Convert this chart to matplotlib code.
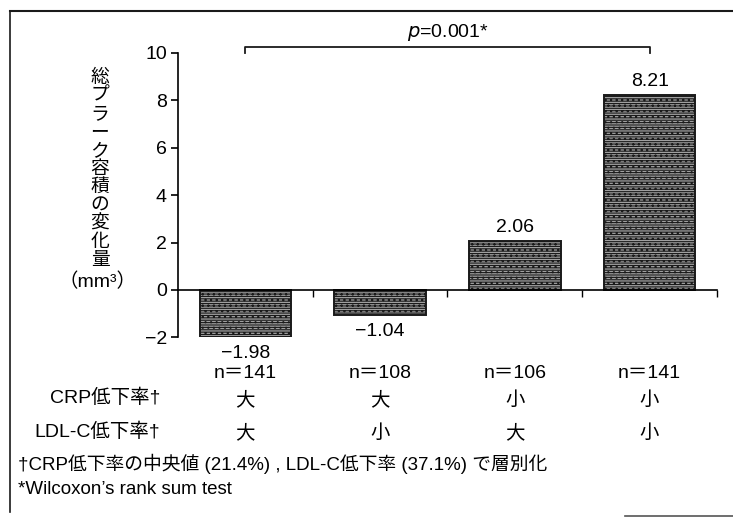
import numpy as np
import matplotlib
matplotlib.use('Agg')
import matplotlib.pyplot as plt
from matplotlib.lines import Line2D

plt.rcParams['font.family'] = ['Liberation Sans', 'Noto Sans CJK JP', 'DejaVu Sans']
plt.rcParams['hatch.linewidth'] = 0.8
plt.rcParams['hatch.color'] = '#1a1a1a'

# group data
values = [-1.98, -1.04, 2.06, 8.21]
value_labels = ['\u22121.98', '\u22121.04', '2.06', '8.21']
n_labels = ['n\uff1d141', 'n\uff1d108', 'n\uff1d106', 'n\uff1d141']
crp_rows = ['大', '大', '小', '小']
ldl_rows = ['大', '小', '大', '小']
yticks = [-2, 0, 2, 4, 6, 8, 10]
ytick_labels = ['\u22122', '0', '2', '4', '6', '8', '10']

fig = plt.figure(figsize=(7.33, 5.19), dpi=100)
ax = fig.add_axes([0.2428, 0.350, 0.7354, 0.548])

x = np.arange(len(values))
ax.bar(x, values, width=0.68, facecolor='#a0a0a0', edgecolor='#1a1a1a',
       linewidth=1.4, hatch='-------...', zorder=2)

ax.set_xlim(-0.5, 3.5)
ax.set_ylim(-2, 10)
ax.set_yticks(yticks)
ax.set_yticklabels(ytick_labels, fontsize=14)
ax.tick_params(axis='y', direction='out', length=5, width=1.2, pad=3)

# x axis sits at zero, ticks between groups
ax.spines['bottom'].set_position(('data', 0))
ax.spines['top'].set_visible(False)
ax.spines['right'].set_visible(False)
ax.spines['left'].set_linewidth(1.2)
ax.spines['bottom'].set_linewidth(1.2)
ax.set_xticks([0.5, 1.5, 2.5, 3.5])
ax.set_xticklabels([])
ax.tick_params(axis='x', direction='out', length=5, width=1.0)

# value labels
for xi, v, lab in zip(x, values, value_labels):
    if v >= 0:
        ax.annotate(lab, (xi, v), xytext=(0, 4), textcoords='offset points',
                    ha='center', va='bottom', fontsize=14)
    else:
        ax.annotate(lab, (xi, v), xytext=(0, -6), textcoords='offset points',
                    ha='center', va='top', fontsize=14)

# rows under the axis
trans = ax.get_xaxis_transform()
for xi, n, c, l in zip(x, n_labels, crp_rows, ldl_rows):
    ax.text(xi, -0.127, n, transform=trans, ha='center', va='center', fontsize=14)
    ax.text(xi, -0.221, c, transform=trans, ha='center', va='center', fontsize=14)
    ax.text(xi, -0.337, l, transform=trans, ha='center', va='center', fontsize=14)

fig.text(160 / 733, 1 - 398 / 519, 'CRP低下率\u2020', ha='right', va='center', fontsize=14)
fig.text(160 / 733, 1 - 432 / 519, 'LDL-C低下率\u2020', ha='right', va='center', fontsize=14)

# significance bracket
ax.plot([0, 0, 3, 3], [9.98, 10.27, 10.27, 9.98], color='#1a1a1a', lw=1.3,
        clip_on=False)
ax.text(1.5, 10.42, '$p$=0.001*', ha='center', va='bottom', fontsize=14)

# stacked vertical y label
ylab = '総プラーク容積の変化量'
for i, ch in enumerate(ylab):
    fig.text(100 / 733, 1 - (78 + i * 18.3) / 519, ch, ha='center', va='center',
             fontsize=13.5)
fig.text(97 / 733, 1 - 282 / 519, '（mm³）', ha='center', va='center', fontsize=14)

# footnotes
fig.text(18 / 733, 1 - 464 / 519, '\u2020CRP低下率の中央値 (21.4%) , LDL-C低下率 (37.1%) で層別化',
         ha='left', va='center', fontsize=13.5)
fig.text(18 / 733, 1 - 489 / 519, '*Wilcoxon\u2019s rank sum test',
         ha='left', va='center', fontsize=13.5)

# outer frame
fig.add_artist(Line2D([10 / 733, 1.0], [1 - 11 / 519, 1 - 11 / 519],
                      transform=fig.transFigure, color='#1a1a1a', lw=1.5))
fig.add_artist(Line2D([10 / 733, 10 / 733], [1 - 11 / 519, 1 - 512 / 519],
                      transform=fig.transFigure, color='#1a1a1a', lw=1.2))
fig.add_artist(Line2D([625 / 733, 1.0], [1 - 516 / 519, 1 - 516 / 519],
                      transform=fig.transFigure, color='#555555', lw=1.2))

fig.savefig('out.png', dpi=100)
